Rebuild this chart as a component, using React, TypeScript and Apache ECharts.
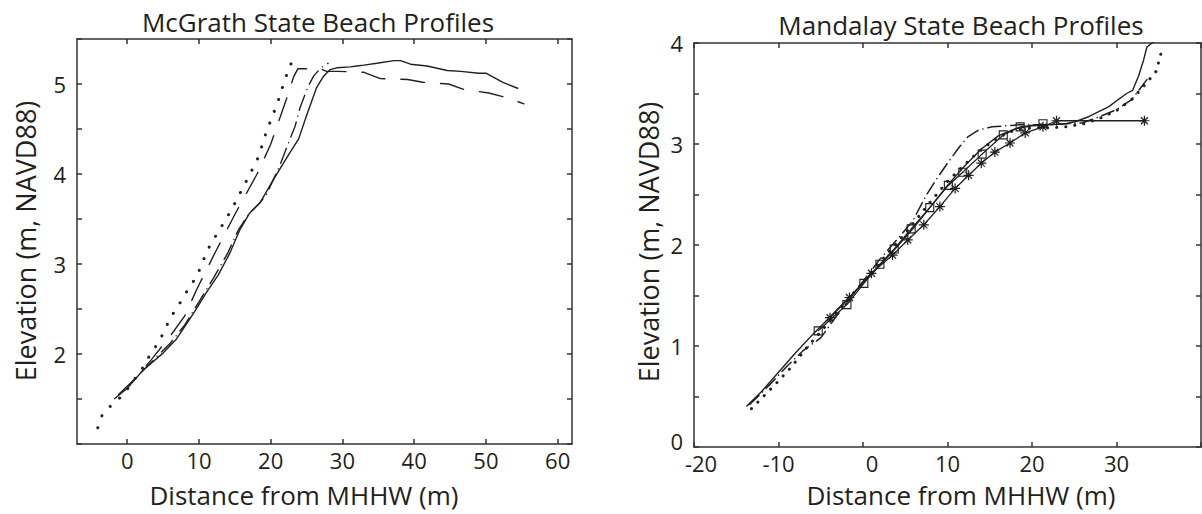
import React, { useEffect, useRef } from 'react';
import * as echarts from 'echarts';

// ---------- McGrath (left) profiles: [distance m, elevation m] ----------
const mcgrathSolid = [
  [-1.8, 1.5], [0, 1.62], [2.2, 1.82], [5.0, 2.01], [6.9, 2.17], [9.4, 2.47], [11.0, 2.68],
  [12.7, 2.88], [14.3, 3.12], [15.7, 3.38], [17.1, 3.57], [18.5, 3.68], [20.4, 3.94],
  [22.7, 4.24], [23.9, 4.39], [25.0, 4.65], [26.4, 4.96], [27.4, 5.09], [28.3, 5.16],
  [29.2, 5.18], [31.1, 5.19], [32.0, 5.2], [33.0, 5.21], [34.8, 5.23], [37.2, 5.26],
  [38.1, 5.26], [39.5, 5.22], [41.8, 5.2], [44.6, 5.15], [46.5, 5.14], [49.0, 5.12],
  [50.0, 5.12], [52.3, 5.02], [54.5, 4.95],
];
const mcgrathDashed = [
  [-1.2, 1.55], [1, 1.72], [3.4, 1.94], [6, 2.2], [8, 2.42], [9.7, 2.72], [12.4, 3.15],
  [15, 3.55], [18.1, 4.0], [20, 4.33], [22.1, 4.81], [23.2, 5.08], [23.8, 5.17], [26.9, 5.17],
  [27.8, 5.14], [29.4, 5.14], [33, 5.13], [35.3, 5.06], [39.1, 5.05], [41.2, 5.02],
  [44.8, 5.0], [46.9, 4.94], [50.4, 4.9], [52.8, 4.85], [55.3, 4.78],
];
const mcgrathDotted = [
  [-4.1, 1.18], [-3.5, 1.32], [-2.0, 1.45], [-0.6, 1.54], [2.2, 1.85], [3.1, 1.98], [4.2, 2.11],
  [5.1, 2.24], [6.0, 2.4], [7.0, 2.52], [7.9, 2.64], [8.8, 2.76], [9.7, 2.86], [10.6, 3.04],
  [11.5, 3.2], [12.4, 3.32], [13.4, 3.45], [14.3, 3.57], [15.3, 3.72], [16.2, 3.86],
  [17.3, 4.03], [18.3, 4.19], [19.4, 4.47], [21.0, 4.8], [21.5, 4.93], [22.1, 5.07],
  [22.6, 5.2], [23.3, 5.27], [24.2, 5.29],
];
const mcgrathDashDot = [
  [2.0, 1.8], [4, 1.96], [6, 2.12], [8, 2.32], [10, 2.58], [12, 2.84], [14, 3.12],
  [15.5, 3.38], [17, 3.56], [18.5, 3.68], [19.4, 3.77], [21.3, 4.1], [22.5, 4.35],
  [23.4, 4.53], [24.1, 4.74], [25.2, 4.97], [26, 5.09], [27, 5.18], [28, 5.23],
];

// ---------- Mandalay (right) profiles ----------
const mandalaySolid = [
  [-13.8, 0.4], [-12, 0.55], [-10, 0.74], [-8, 0.93], [-6, 1.11], [-4, 1.28], [-2, 1.45],
  [0, 1.62], [2, 1.8], [4, 1.98], [6, 2.17], [8, 2.38], [10, 2.59], [12, 2.78], [14, 2.95],
  [16, 3.08], [18, 3.15], [20, 3.18], [22, 3.19], [24, 3.2], [25.1, 3.22], [26.7, 3.27],
  [27.9, 3.32], [29.1, 3.37], [30.2, 3.44], [31.2, 3.5], [31.9, 3.53], [32.6, 3.67],
  [33.2, 3.83], [33.6, 3.96], [34.2, 4.0], [35, 4.04],
];
const mandalayDotted = [
  [-13.2, 0.38], [-10.5, 0.61], [-8.5, 0.79], [-6.7, 0.98], [-4.5, 1.19], [-2, 1.44],
  [0, 1.63], [2, 1.83], [4, 2.02], [6, 2.22], [8, 2.43], [10, 2.63], [12.2, 2.81],
  [13.5, 2.91], [15.2, 3.02], [16.1, 3.07], [18, 3.14], [20, 3.16], [22, 3.16], [24, 3.17],
  [26.1, 3.2], [27.9, 3.25], [30, 3.33], [31.8, 3.44], [33.5, 3.6], [34.7, 3.72], [35.4, 3.94],
];
const mandalayDashDot = [
  [-13.4, 0.42], [-11, 0.62], [-9, 0.8], [-7, 0.96], [-5, 1.08], [-3.2, 1.29], [-2, 1.42],
  [0, 1.64], [2, 1.86], [4.3, 2.08], [5.9, 2.24], [7.4, 2.48], [8.6, 2.64], [10.0, 2.81],
  [11.4, 2.97], [12.4, 3.07], [13.7, 3.14], [15.3, 3.17], [16.9, 3.18], [18.5, 3.19],
  [20, 3.19], [22, 3.19], [24, 3.2], [26, 3.21], [28, 3.27], [30, 3.34], [31.8, 3.44],
  [32.8, 3.55], [33.8, 3.66],
];
const mandalaySquares = [
  [-5.3, 1.15], [-1.9, 1.41], [0.1, 1.62], [2.0, 1.81], [3.7, 1.96], [5.7, 2.16], [7.9, 2.37],
  [10.1, 2.59], [11.8, 2.72], [14.1, 2.9], [16.6, 3.09], [18.6, 3.17], [21.3, 3.2],
];
const mandalayStars = [
  [-3.9, 1.28], [-1.6, 1.48], [1.0, 1.72], [3.5, 1.9], [5.3, 2.05], [7.2, 2.2], [9.1, 2.38],
  [10.9, 2.56], [12.5, 2.69], [14.0, 2.81], [15.6, 2.92], [17.4, 3.01], [19.2, 3.11],
  [21.3, 3.17], [22.9, 3.23], [33.3, 3.23],
];

// ---------- ticks ----------
const leftXTicks = [0, 10, 20, 30, 40, 50, 60];
const leftYTicks = [1, 1.5, 2, 2.5, 3, 3.5, 4, 4.5, 5, 5.5];
const leftYLabels = [2, 3, 4, 5];
const rightXTicks = [-20, -10, 0, 10, 20, 30, 40];
const rightXLabels = [-20, -10, 0, 10, 20, 30];
const rightYTicks = [0, 0.5, 1, 1.5, 2, 2.5, 3, 3.5, 4];
const rightYLabels = [0, 1, 2, 3, 4];

const titles = ['McGrath State Beach Profiles', 'Mandalay State Beach Profiles'];
const xName = 'Distance from MHHW (m)';
const yName = 'Elevation (m, NAVD88)';

const INK = '#231f20';
const FONT = '"Open Sans", "Noto Sans", sans-serif';
const STAR =
  'path://M-1.2,-10L1.2,-10L1.2,10L-1.2,10Z M-10,-1.2L10,-1.2L10,1.2L-10,1.2Z ' +
  'M-6.15,-7.85L7.85,6.15L6.15,7.85L-7.85,-6.15Z M-7.85,6.15L6.15,-7.85L7.85,-6.15L-6.15,7.85Z';

export default function App() {
  const ref = useRef<HTMLDivElement>(null);

  useEffect(() => {
    if (!ref.current) return;
    const chart = echarts.init(ref.current, undefined, { renderer: 'svg' });

    const boxLine = { color: '#333', width: 1.5 };
    const lab = { color: INK, fontFamily: FONT, fontSize: 22 };

    const xAx = (grid: number, min: number, max: number, ticks: number[], labels: number[] | null, pos: string, fmt?: any, rich?: any) => ({
      type: 'value', gridIndex: grid, min, max, position: pos,
      axisLine: { show: true, onZero: false, lineStyle: boxLine },
      splitLine: { show: false },
      axisTick: { show: true, inside: true, length: 5, lineStyle: boxLine, customValues: ticks },
      axisLabel: labels
        ? { show: true, ...lab, margin: 5, customValues: labels, formatter: fmt, rich, showMinLabel: true, showMaxLabel: true }
        : { show: false },
    });
    const yAx = (grid: number, min: number, max: number, ticks: number[], labels: number[] | null, pos: string, fmt?: any, rich?: any) => ({
      type: 'value', gridIndex: grid, min, max, position: pos,
      axisLine: { show: true, onZero: false, lineStyle: boxLine },
      splitLine: { show: false },
      axisTick: { show: true, inside: true, length: 5, lineStyle: boxLine, customValues: ticks },
      axisLabel: labels
        ? { show: true, ...lab, margin: 11, customValues: labels, formatter: fmt, rich, showMinLabel: true, showMaxLabel: true }
        : { show: false },
    });

    const rightXFmt = (v: number) => (v === 0 ? '{z|0}' : v === -20 ? '{m|-20}' : String(v));
    const rightXRich = {
      z: { ...lab, padding: [0, 0, 0, 18] },
      m: { ...lab, padding: [0, 0, 0, 14] },
    };
    const rightYFmt = (v: number) => (v === 0 ? '{b|0}' : String(v));
    const rightYRich = { b: { ...lab, padding: [0, 0, 12, 0] } };

    const line = (xi: number, data: number[][], type: any, width: number, extra: any = {}) => ({
      type: 'line', xAxisIndex: xi, yAxisIndex: xi, data,
      symbol: 'none', showSymbol: false, silent: true, clip: true,
      lineStyle: { color: INK, width, type, cap: type === 'solid' ? 'butt' : 'round' },
      itemStyle: { color: INK },
      ...extra,
    });

    chart.setOption({
      animation: false,
      backgroundColor: '#ffffff',
      grid: [
        { left: 77, top: 39, width: 495, height: 405 },
        { left: 694, top: 43, width: 507, height: 404 },
      ],
      xAxis: [
        xAx(0, -7, 62, leftXTicks, leftXTicks, 'bottom'),
        xAx(0, -7, 62, leftXTicks, null, 'top'),
        xAx(1, -20, 40, rightXTicks, rightXLabels, 'bottom', rightXFmt, rightXRich),
        xAx(1, -20, 40, rightXTicks, null, 'top'),
      ],
      yAxis: [
        yAx(0, 1, 5.5, leftYTicks, leftYLabels, 'left'),
        yAx(0, 1, 5.5, leftYTicks, null, 'right'),
        yAx(1, 0, 4, rightYTicks, rightYLabels, 'left', rightYFmt, rightYRich),
        yAx(1, 0, 4, rightYTicks, null, 'right'),
      ],
      series: [
        line(0, mcgrathSolid, 'solid', 1.4),
        line(0, mcgrathDashed, [24, 16], 1.4),
        line(0, mcgrathDotted, [0.1, 12.5], 3),
        line(0, mcgrathDashDot, [16, 6, 0.1, 6], 1.4),
        line(2, mandalaySolid, 'solid', 1.4),
        line(2, mandalayDotted, [0.1, 9], 3),
        line(2, mandalayDashDot, [13, 5, 0.1, 5], 1.5),
        line(2, mandalaySquares, 'solid', 1.3, {
          symbol: 'rect', showSymbol: true, showAllSymbol: true, symbolSize: 8,
          itemStyle: { color: 'transparent', borderColor: INK, borderWidth: 1.1 },
        }),
        line(2, mandalayStars, 'solid', 1.3, {
          symbol: STAR, showSymbol: true, showAllSymbol: true, symbolSize: 10,
          itemStyle: { color: INK },
        }),
      ],
      graphic: [
        { type: 'text', x: 318, y: 22, style: { text: titles[0], fill: INK, fontFamily: FONT, fontSize: 26, align: 'center', verticalAlign: 'middle' } },
        { type: 'text', x: 961, y: 25, style: { text: titles[1], fill: INK, fontFamily: FONT, fontSize: 26, align: 'center', verticalAlign: 'middle' } },
        { type: 'text', x: 304, y: 495, style: { text: xName, fill: INK, fontFamily: FONT, fontSize: 26, align: 'center', verticalAlign: 'middle' } },
        { type: 'text', x: 961, y: 495, style: { text: xName, fill: INK, fontFamily: FONT, fontSize: 26, align: 'center', verticalAlign: 'middle' } },
        { type: 'text', x: 25, y: 241, rotation: Math.PI / 2, style: { text: yName, fill: INK, fontFamily: FONT, fontSize: 27, align: 'center', verticalAlign: 'middle' } },
        { type: 'text', x: 648, y: 242, rotation: Math.PI / 2, style: { text: yName, fill: INK, fontFamily: FONT, fontSize: 27, align: 'center', verticalAlign: 'middle' } },
      ],
    });

    return () => chart.dispose();
  }, []);

  return <div ref={ref} style={{ position: 'absolute', left: 0, top: 0, width: 1202, height: 514 }} />;
}
